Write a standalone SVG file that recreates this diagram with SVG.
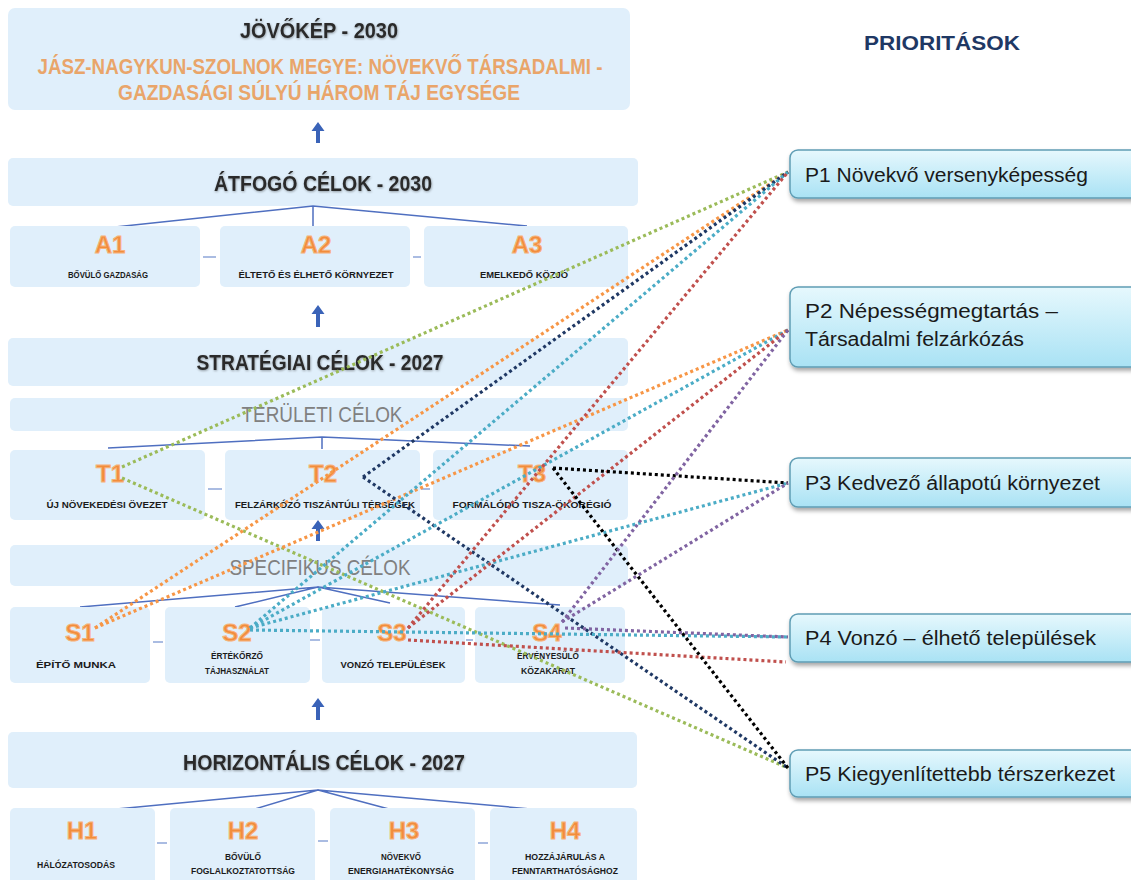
<svg xmlns="http://www.w3.org/2000/svg" width="1131" height="880" viewBox="0 0 1131 880">
<defs>
  <linearGradient id="pg" x1="0" y1="0" x2="0" y2="1">
    <stop offset="0" stop-color="#E6F8FD"/>
    <stop offset="1" stop-color="#A9E2F4"/>
  </linearGradient>
  <filter id="sh" x="-5%" y="-20%" width="115%" height="160%">
    <feDropShadow dx="1" dy="3" stdDeviation="2" flood-color="#000" flood-opacity="0.35"/>
  </filter>
  <filter id="ts" x="-5%" y="-30%" width="110%" height="160%">
    <feDropShadow dx="0.5" dy="1" stdDeviation="1" flood-color="#000" flood-opacity="0.35"/>
  </filter>
</defs>
<style>
  .bx{fill:#E0EFFB;}
  .hd{font-family:"Liberation Sans",Arial,sans-serif;font-weight:bold;font-size:22px;fill:#2b2b2b;text-anchor:middle;}
  .gr{font-family:"Liberation Sans",Arial,sans-serif;font-size:22px;fill:#808080;text-anchor:middle;}
  .or{font-family:"Liberation Sans",Arial,sans-serif;font-weight:bold;font-size:22px;fill:#E9A56A;text-anchor:middle;}
  .lb{font-family:"Liberation Sans",Arial,sans-serif;font-weight:bold;font-size:24px;fill:#F28C3C;stroke:#F6B27A;stroke-width:1;text-anchor:middle;}
  .st{font-family:"Liberation Sans",Arial,sans-serif;font-weight:bold;font-size:9.5px;fill:#1a1a1a;text-anchor:middle;}
  .tree{fill:none;stroke:#4F6FC0;stroke-width:1.5;}
  .dash{stroke:#8EA6D8;stroke-width:1.5;}
  .arr{fill:#3A63B8;}
  .pb{fill:url(#pg);stroke:#5F9DB4;stroke-width:1.5;}
  .pt{font-family:"Liberation Sans",Arial,sans-serif;font-size:20px;fill:#1a1a1a;}
  .c{fill:none;stroke-width:3.2;stroke-dasharray:3 3;}
  .g{stroke:#9BBB59;} .o{stroke:#F79646;} .n{stroke:#1F3864;} .t{stroke:#4BACC6;}
  .r{stroke:#C0504D;} .k{stroke:#000;} .p{stroke:#8064A2;}
</style>

<g id="jovokep">
  <rect class="bx" x="8" y="8" width="622" height="102" rx="7"/>
  <text class="hd" x="319" y="38" textLength="158" lengthAdjust="spacingAndGlyphs" filter="url(#ts)">JÖVŐKÉP - 2030</text>
  <text class="or" x="320" y="74" textLength="565" lengthAdjust="spacingAndGlyphs">JÁSZ-NAGYKUN-SZOLNOK MEGYE: NÖVEKVŐ TÁRSADALMI -</text>
  <text class="or" x="319" y="100" textLength="402" lengthAdjust="spacingAndGlyphs">GAZDASÁGI SÚLYÚ HÁROM TÁJ EGYSÉGE</text>
</g>
<path class="arr" d="M316,143 V131 H311.5 L318,122 L324.5,131 H320 V143 Z"/>

<g id="atfogo">
  <rect class="bx" x="8" y="158" width="630" height="48" rx="5"/>
  <text class="hd" x="323" y="191" textLength="218" lengthAdjust="spacingAndGlyphs" filter="url(#ts)">ÁTFOGÓ CÉLOK - 2030</text>
</g>
<path class="tree" d="M115,227 L313,206 L527,226 M313,206 V226"/>
<g id="A1"><rect class="bx" x="10" y="226" width="190" height="61" rx="5"/>
  <text class="lb" x="110" y="253">A1</text>
  <text class="st" x="108" y="278" textLength="80" lengthAdjust="spacingAndGlyphs">BŐVÜLŐ GAZDASÁG</text></g>
<g id="A2"><rect class="bx" x="220" y="226" width="190" height="61" rx="5"/>
  <text class="lb" x="316" y="253">A2</text>
  <text class="st" x="316" y="278" textLength="155" lengthAdjust="spacingAndGlyphs">ÉLTETŐ ÉS ÉLHETŐ KÖRNYEZET</text></g>
<g id="A3"><rect class="bx" x="424" y="226" width="204" height="61" rx="5"/>
  <text class="lb" x="527" y="253">A3</text>
  <text class="st" x="524" y="278" textLength="88" lengthAdjust="spacingAndGlyphs">EMELKEDŐ KÖZJÓ</text></g>
<line class="dash" x1="203" y1="257" x2="216" y2="257"/>
<line class="dash" x1="413" y1="257" x2="421" y2="257"/>
<path class="arr" d="M316,327 V314 H311.5 L318,305 L324.5,314 H320 V327 Z"/>

<g id="strategiai">
  <rect class="bx" x="8" y="338" width="620" height="48" rx="5"/>
  <text class="hd" x="320" y="370" textLength="247" lengthAdjust="spacingAndGlyphs" filter="url(#ts)">STRATÉGIAI CÉLOK - 2027</text>
</g>
<g id="teruleti">
  <rect class="bx" x="10" y="398" width="618" height="33" rx="5"/>
  <text class="gr" x="322" y="422" textLength="161" lengthAdjust="spacingAndGlyphs">TERÜLETI CÉLOK</text>
</g>
<path class="tree" d="M108,448 L322,437 L530,446 M322,437 V449"/>
<g id="T1"><rect class="bx" x="10" y="450" width="195" height="70" rx="5"/>
  <text class="lb" x="110" y="482">T1</text>
  <text class="st" x="107" y="508" textLength="121" lengthAdjust="spacingAndGlyphs">ÚJ NÖVEKEDÉSI ÖVEZET</text></g>
<g id="T2"><rect class="bx" x="225" y="450" width="195" height="70" rx="5"/>
  <text class="lb" x="323" y="482">T2</text>
  <text class="st" x="325" y="508" textLength="180" lengthAdjust="spacingAndGlyphs">FELZÁRKÓZÓ TISZÁNTÚLI TÉRSÉGEK</text></g>
<g id="T3"><rect class="bx" x="433" y="450" width="195" height="70" rx="5"/>
  <text class="lb" x="532" y="482">T3</text>
  <text class="st" x="532" y="508" textLength="159" lengthAdjust="spacingAndGlyphs">FORMÁLÓDÓ TISZA-ÖKORÉGIÓ</text></g>
<line class="dash" x1="208" y1="489" x2="222" y2="489"/>
<line class="dash" x1="421" y1="489" x2="430" y2="489"/>
<path class="arr" d="M316,541 V529 H311.5 L318,520 L324.5,529 H320 V541 Z"/>

<g id="specifikus">
  <rect class="bx" x="10" y="545" width="618" height="41" rx="5"/>
  <text class="gr" x="320" y="575" textLength="181" lengthAdjust="spacingAndGlyphs">SPECIFIKUS CÉLOK</text>
</g>
<path class="tree" d="M80,607 L318,587 L235,607 M318,587 L390,603 M318,587 L560,605"/>
<g id="S1"><rect class="bx" x="10" y="607" width="140" height="76" rx="5"/>
  <text class="lb" x="80" y="641">S1</text>
  <text class="st" x="76" y="668" textLength="80" lengthAdjust="spacingAndGlyphs">ÉPÍTŐ MUNKA</text></g>
<g id="S2"><rect class="bx" x="165" y="607" width="145" height="76" rx="5"/>
  <text class="lb" x="237" y="641">S2</text>
  <text class="st" x="237" y="659" textLength="52" lengthAdjust="spacingAndGlyphs">ÉRTÉKŐRZŐ</text>
  <text class="st" x="237" y="674" textLength="64" lengthAdjust="spacingAndGlyphs">TÁJHASZNÁLAT</text></g>
<g id="S3"><rect class="bx" x="322" y="607" width="143" height="76" rx="5"/>
  <text class="lb" x="392" y="641">S3</text>
  <text class="st" x="393" y="668" textLength="105" lengthAdjust="spacingAndGlyphs">VONZÓ TELEPÜLÉSEK</text></g>
<g id="S4"><rect class="bx" x="475" y="607" width="150" height="76" rx="5"/>
  <text class="lb" x="547" y="641">S4</text>
  <text class="st" x="548" y="659" textLength="62" lengthAdjust="spacingAndGlyphs">ÉRVÉNYESÜLŐ</text>
  <text class="st" x="548" y="674" textLength="54" lengthAdjust="spacingAndGlyphs">KÖZAKARAT</text></g>
<line class="dash" x1="153" y1="642" x2="163" y2="642"/>
<line class="dash" x1="310" y1="640" x2="320" y2="640"/>
<line class="dash" x1="466" y1="640" x2="473" y2="640"/>
<path class="arr" d="M316,720 V707 H311.5 L318,698 L324.5,707 H320 V720 Z"/>

<g id="horizontalis">
  <rect class="bx" x="8" y="732" width="629" height="56" rx="5"/>
  <text class="hd" x="324" y="770" textLength="282" lengthAdjust="spacingAndGlyphs" filter="url(#ts)">HORIZONTÁLIS CÉLOK - 2027</text>
</g>
<path class="tree" d="M85,812 L318,790 L245,812 M318,790 L400,812 M318,790 L565,812"/>
<g id="H1"><rect class="bx" x="10" y="808" width="145" height="80" rx="5"/>
  <text class="lb" x="82" y="839">H1</text>
  <text class="st" x="76" y="868" textLength="78" lengthAdjust="spacingAndGlyphs">HÁLÓZATOSODÁS</text></g>
<g id="H2"><rect class="bx" x="170" y="808" width="145" height="80" rx="5"/>
  <text class="lb" x="243" y="839">H2</text>
  <text class="st" x="243" y="860" textLength="36" lengthAdjust="spacingAndGlyphs">BŐVÜLŐ</text>
  <text class="st" x="243" y="874" textLength="104" lengthAdjust="spacingAndGlyphs">FOGLALKOZTATOTTSÁG</text></g>
<g id="H3"><rect class="bx" x="330" y="808" width="145" height="80" rx="5"/>
  <text class="lb" x="404" y="839">H3</text>
  <text class="st" x="401" y="860" textLength="40" lengthAdjust="spacingAndGlyphs">NÖVEKVŐ</text>
  <text class="st" x="401" y="874" textLength="106" lengthAdjust="spacingAndGlyphs">ENERGIAHATÉKONYSÁG</text></g>
<g id="H4"><rect class="bx" x="490" y="808" width="147" height="80" rx="5"/>
  <text class="lb" x="565" y="839">H4</text>
  <text class="st" x="565" y="860" textLength="80" lengthAdjust="spacingAndGlyphs">HOZZÁJÁRULÁS A</text>
  <text class="st" x="565" y="874" textLength="106" lengthAdjust="spacingAndGlyphs">FENNTARTHATÓSÁGHOZ</text></g>
<line class="dash" x1="157" y1="843" x2="167" y2="843"/>
<line class="dash" x1="318" y1="841" x2="328" y2="841"/>
<line class="dash" x1="478" y1="843" x2="488" y2="843"/>

<g id="connectors">
  <line class="c g" x1="122" y1="467" x2="788" y2="172"/>
  <line class="c g" x1="122" y1="478" x2="788" y2="768"/>
  <line class="c o" x1="95" y1="628" x2="788" y2="172"/>
  <line class="c o" x1="95" y1="628" x2="788" y2="330"/>
  <line class="c n" x1="363" y1="477" x2="788" y2="172"/>
  <line class="c n" x1="363" y1="477" x2="788" y2="768"/>
  <line class="c t" x1="250" y1="628" x2="788" y2="172"/>
  <line class="c t" x1="250" y1="628" x2="788" y2="330"/>
  <line class="c t" x1="250" y1="628" x2="788" y2="483"/>
  <line class="c t" x1="250" y1="630" x2="788" y2="637"/>
  <line class="c r" x1="408" y1="628" x2="788" y2="172"/>
  <line class="c r" x1="408" y1="628" x2="788" y2="330"/>
  <line class="c r" x1="408" y1="640" x2="786" y2="662"/>
  <line class="c k" x1="553" y1="468" x2="788" y2="483"/>
  <line class="c k" x1="553" y1="468" x2="788" y2="768"/>
  <line class="c p" x1="562" y1="622" x2="788" y2="330"/>
  <line class="c p" x1="562" y1="622" x2="788" y2="483"/>
  <line class="c p" x1="565" y1="628" x2="788" y2="637"/>
</g>

<text x="942" y="50" text-anchor="middle" font-family="'Liberation Sans',Arial,sans-serif" font-weight="bold" font-size="20" fill="#1F3864" textLength="156" lengthAdjust="spacingAndGlyphs">PRIORITÁSOK</text>

<g id="P1"><rect class="pb" x="790" y="150" width="360" height="48" rx="8" filter="url(#sh)"/>
  <text class="pt" x="805" y="182" textLength="283" lengthAdjust="spacingAndGlyphs">P1 Növekvő versenyképesség</text></g>
<g id="P2"><rect class="pb" x="790" y="287" width="360" height="80" rx="8" filter="url(#sh)"/>
  <text class="pt" x="805" y="318" textLength="253" lengthAdjust="spacingAndGlyphs">P2 Népességmegtartás –</text>
  <text class="pt" x="805" y="346" textLength="219" lengthAdjust="spacingAndGlyphs">Társadalmi felzárkózás</text></g>
<g id="P3"><rect class="pb" x="790" y="458" width="360" height="49" rx="8" filter="url(#sh)"/>
  <text class="pt" x="805" y="490" textLength="295" lengthAdjust="spacingAndGlyphs">P3 Kedvező állapotú környezet</text></g>
<g id="P4"><rect class="pb" x="790" y="614" width="360" height="48" rx="8" filter="url(#sh)"/>
  <text class="pt" x="805" y="645" textLength="291" lengthAdjust="spacingAndGlyphs">P4 Vonzó – élhető települések</text></g>
<g id="P5"><rect class="pb" x="790" y="750" width="360" height="47" rx="8" filter="url(#sh)"/>
  <text class="pt" x="805" y="781" textLength="310" lengthAdjust="spacingAndGlyphs">P5 Kiegyenlítettebb térszerkezet</text></g>
</svg>
